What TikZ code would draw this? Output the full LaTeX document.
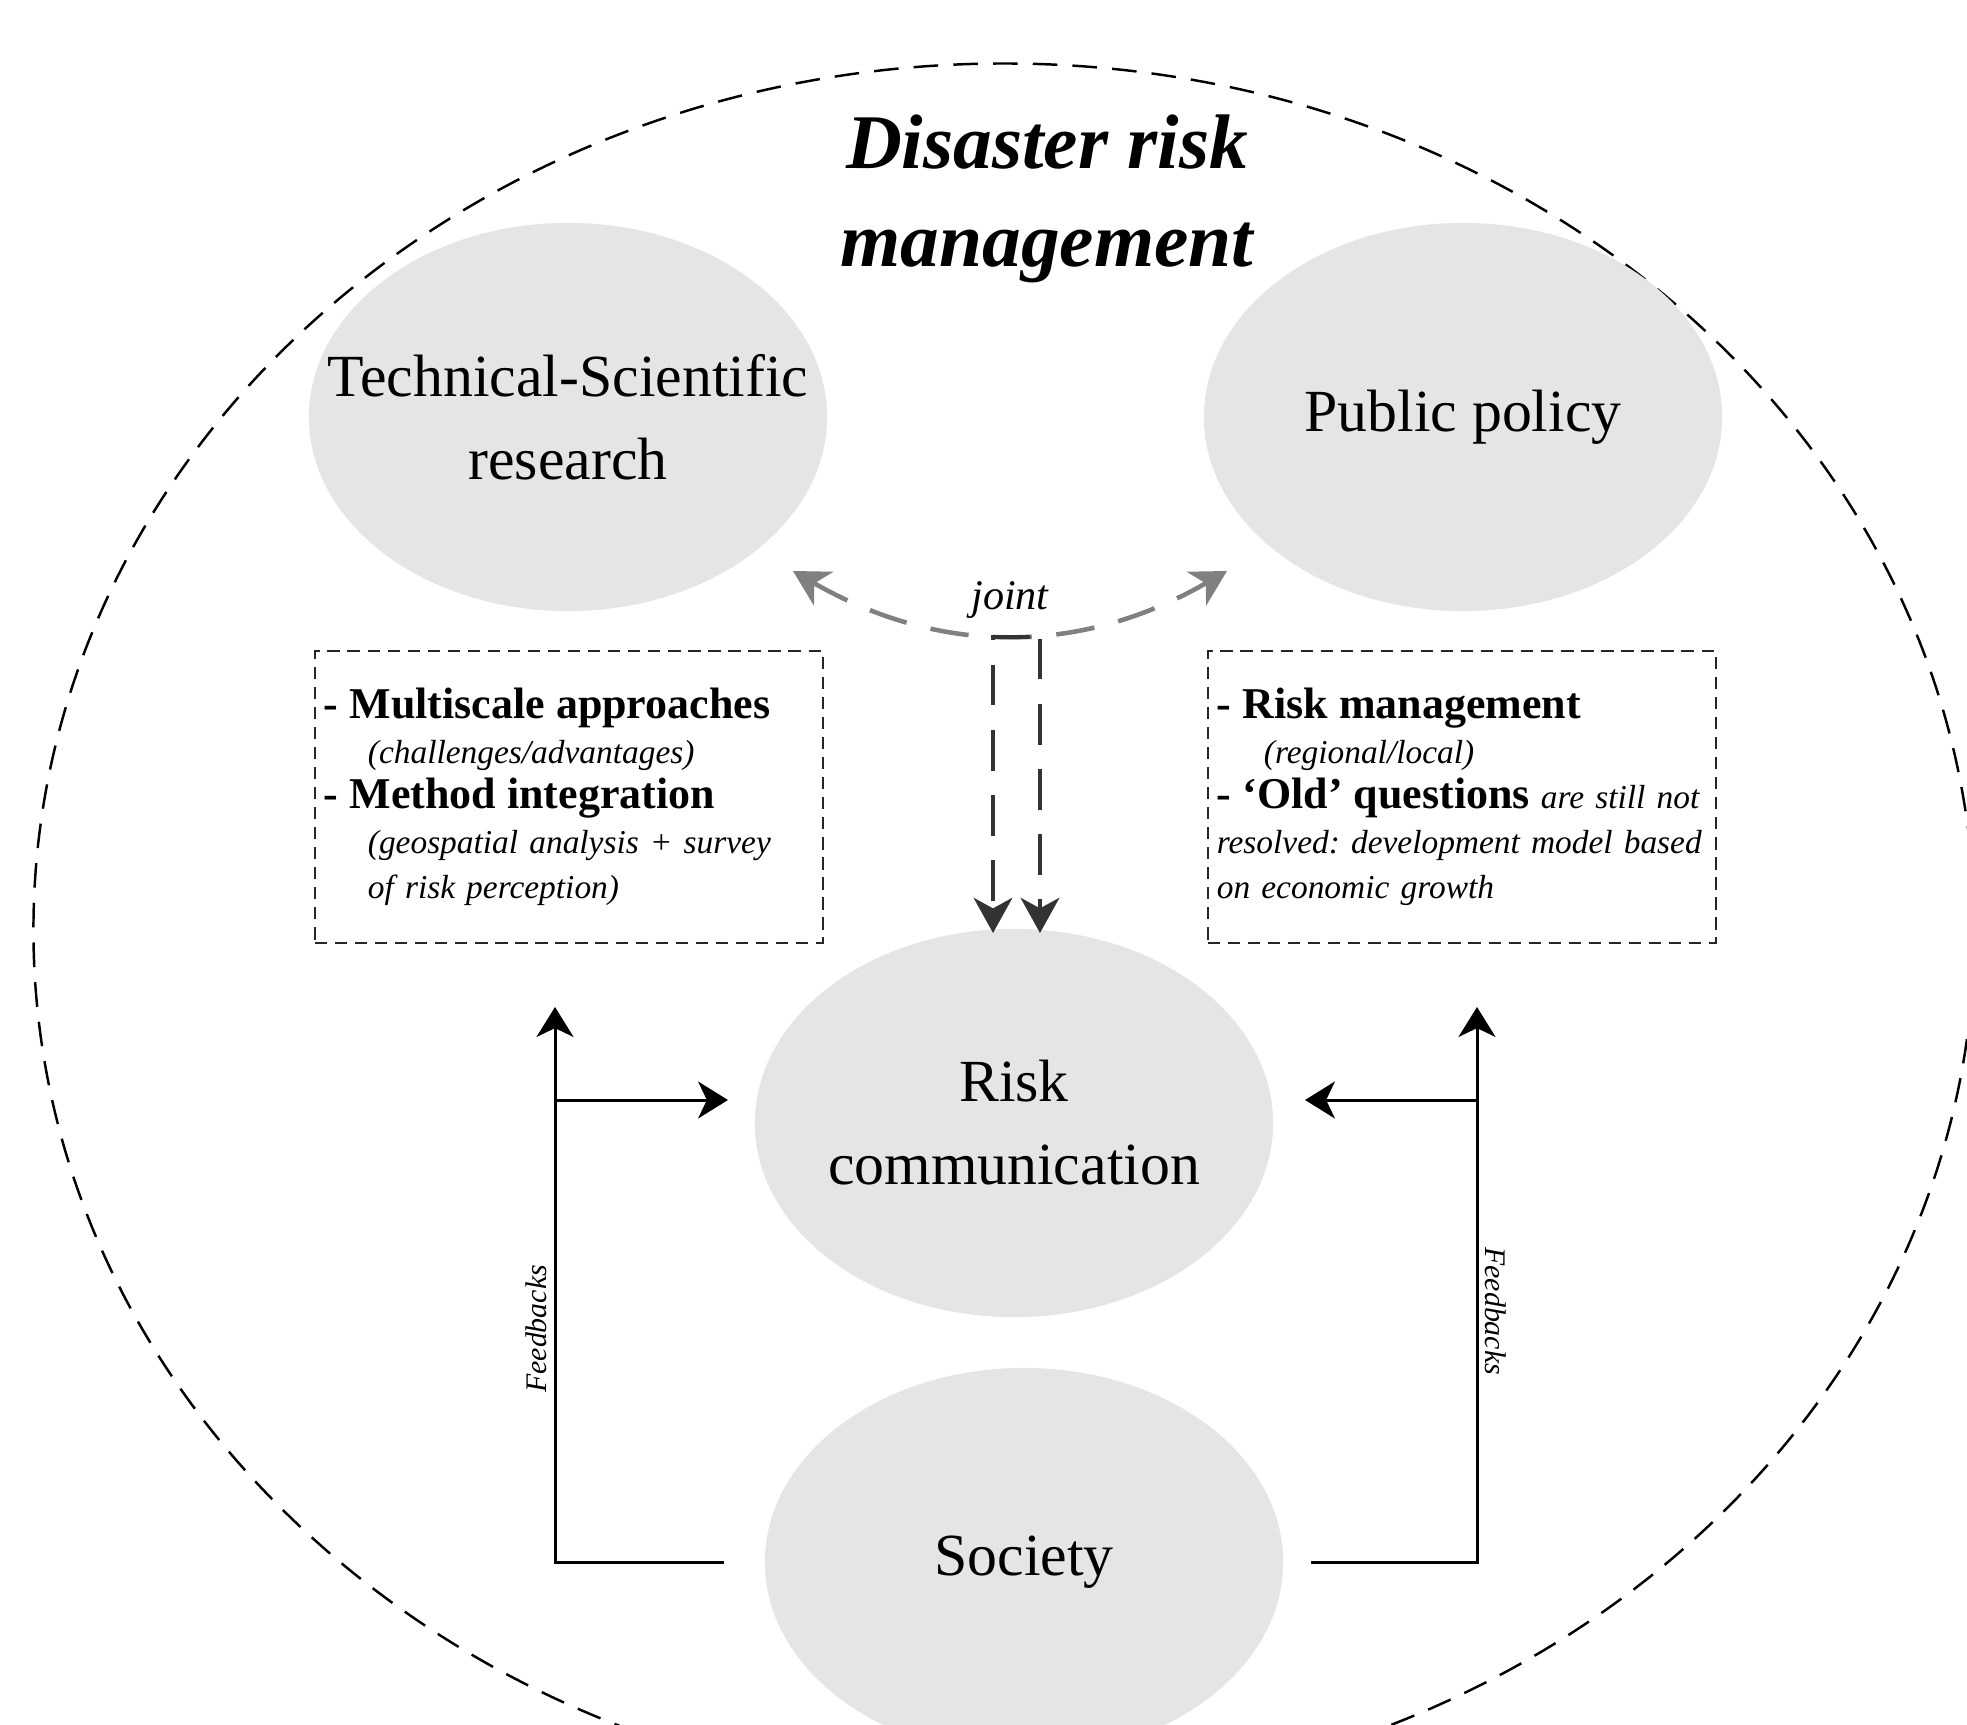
\documentclass[tikz,border=0pt]{standalone}
\usepackage{fontspec}
\setmainfont{Liberation Serif}
\usetikzlibrary{shapes.geometric,arrows.meta}

\tikzstyle{blob}=[ellipse, fill=black!10, minimum width=5.18cm, minimum height=3.88cm, inner sep=-1.2cm, align=center, font=\fontsize{17}{23.6}\selectfont]
\tikzstyle{notebox}=[rectangle, draw=black!85, dash pattern=on 3.5pt off 2.2pt, line width=0.6pt, minimum height=2.91cm, text width=4.9cm, inner xsep=0.09cm, align=left, font=\frenchspacing\fontsize{9.5}{12.8}\selectfont]

\newcommand{\boldlead}[1]{{\fontsize{12.5}{12.8}\selectfont\bfseries #1}}

\begin{document}
\begin{tikzpicture}[x=0.01cm, y=-0.01cm, fb/.style = {line width=0.85pt, -{Stealth[length=8.5pt, width=10.5pt, inset=2.5pt]}}, dk/.style = {draw=black!80, line width=1.15pt, dash pattern=on 11.5pt off 7pt, -{Stealth[length=10pt, width=11pt, inset=3pt]}}, jarc/.style = {draw=black!50, line width=1.3pt, dash pattern=on 11pt off 7pt, {Stealth[length=10pt, width=11pt, inset=3pt]}-{Stealth[length=10pt, width=11pt, inset=3pt]}}, lab/.style = {inner sep=2pt, font=\fontsize{8.5}{10}\selectfont\itshape}]
    \useasboundingbox (0,0) rectangle (1967,1725);

    \node (outer) [draw, ellipse, dash pattern=on 7pt off 4.3pt, line width=0.7pt, minimum width=19.4cm, minimum height=17.32cm, inner sep=0pt] at (1004,930) {};
    \node (title) [align=center, font=\fontsize{22}{28}\selectfont\bfseries\itshape] at (1047,199) {Disaster risk\\management};

    \node (tech) [blob] at (568,417) {Technical-Scientific\\research};
    \node (pub) [blob] at (1463,417) {Public policy};
    \node (comm) [blob] at (1014,1123) {Risk\\communication};
    \node (soc) [blob] at (1024,1562) {Society};

    \node (techbox) [notebox] at (569,797) {\boldlead{- Multiscale approaches}\\
      \hspace*{0.44cm}\textit{(challenges/advantages)}\\
      \boldlead{- Method integration}\\
      \hspace*{0.44cm}\textit{(geospatial analysis + survey}\\
      \hspace*{0.44cm}\textit{of risk perception)}};
    \node (pubbox) [notebox] at (1462,797) {\boldlead{- Risk management}\\
      \hspace*{0.47cm}\textit{(regional/local)}\\
      \makebox[4.9cm][s]{\boldlead{- ‘Old’ questions} \textit{are still not}}\\
      \makebox[4.9cm][s]{\textit{resolved: development model based}}\\
      \textit{on economic growth}};

    \coordinate (jl) at (793,571);
    \coordinate (jr) at (1227,571);
    \coordinate (dl0) at (1030,637);
    \coordinate (dl1) at (993,933);
    \coordinate (dr0) at (1040,639);
    \coordinate (dr1) at (1040,933);
    \coordinate (fl0) at (724,1562);
    \coordinate (fl1) at (555,1007);
    \coordinate (fl2) at (555,1100);
    \coordinate (fl3) at (728,1100);
    \coordinate (fr0) at (1311,1562);
    \coordinate (fr1) at (1477,1007);
    \coordinate (fr2) at (1477,1100);
    \coordinate (fr3) at (1305,1100);

    \path
    (jl) edge [jarc, bend right=30] node (joint) [above, inner sep=4pt, font=\fontsize{12}{14}\selectfont\itshape] {joint} (jr)
    (fl2) edge [fb] (fl3)
    (fr2) edge [fb] (fr3);
    \draw [dk] (dl0) -| (dl1);
    \draw [dk] (dr0) -- (dr1);

    \draw [fb] (fl0) -| node (fbl) [lab, pos=0.71, rotate=90, anchor=south] {Feedbacks} (fl1);
    \draw [fb] (fr0) -| node (fbr) [lab, pos=0.726, rotate=-90, anchor=south] {Feedbacks} (fr1);
  \end{tikzpicture}
\end{document}
